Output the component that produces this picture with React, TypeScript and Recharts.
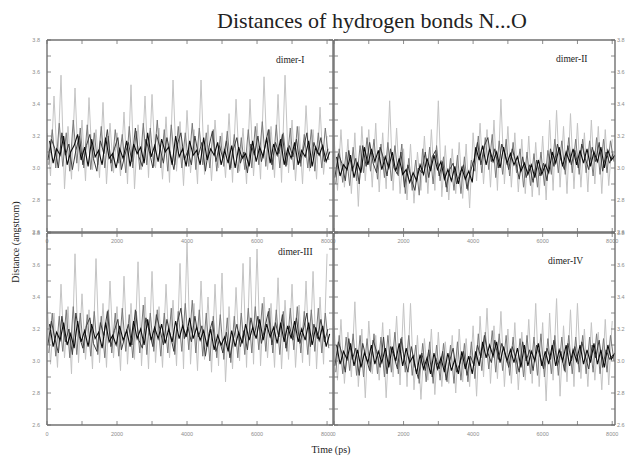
import React from 'react';
import { LineChart, Line, XAxis, YAxis } from 'recharts';

const W = 629;
const H = 457;

// each trace is sampled every 100 ps over 0..8000; the traces are staggered in time
const TIME_STEP = 100;
const X_TICKS = [0, 1000, 2000, 3000, 4000, 5000, 6000, 7000, 8000];
const Y_TICKS = [2.6, 2.7, 2.8, 2.9, 3.0, 3.1, 3.2, 3.3, 3.4, 3.5, 3.6, 3.7, 3.8];

// dimer-I
const d1Light = [
  3.22, 2.95, 3.45, 3.0, 3.58, 2.87, 3.26, 2.93, 3.5, 2.98,
  3.3, 2.92, 3.44, 2.99, 3.24, 2.94, 3.41, 2.9, 3.28, 2.97,
  3.22, 2.95, 3.35, 2.9, 3.52, 2.87, 3.27, 2.99, 3.45, 2.94,
  3.46, 3.0, 3.25, 2.93, 3.32, 2.91, 3.55, 2.98, 3.29, 2.89,
  3.36, 2.97, 3.24, 2.9, 3.55, 2.96, 3.27, 2.92, 3.3, 3.0,
  3.22, 2.94, 3.34, 2.91, 3.43, 2.98, 3.25, 2.9, 3.43, 2.95,
  3.28, 2.93, 3.57, 2.99, 3.26, 2.94, 3.46, 2.91, 3.58, 2.97,
  3.3, 2.92, 3.26, 2.9, 3.39, 2.98, 3.24, 2.93, 3.38, 2.96,
  3.2,
];
const d1Mid = [
  3.02, 3.24, 3.0, 3.28, 3.01, 3.22, 2.98, 3.3, 3.03, 3.25,
  3.0, 3.27, 2.99, 3.22, 3.02, 3.26, 3.0, 3.2, 2.98, 3.24,
  3.03, 3.21, 2.97, 3.26, 3.0, 3.23, 2.99, 3.28, 3.02, 3.25,
  3.01, 3.3, 3.0, 3.24, 2.98, 3.27, 3.02, 3.26, 3.0, 3.22,
  3.01, 3.28, 2.99, 3.25, 3.02, 3.22, 3.0, 3.24, 2.98, 3.2,
  3.01, 3.23, 3.0, 3.21, 2.97, 3.19, 2.99, 3.24, 3.0, 3.26,
  3.02, 3.29, 3.01, 3.24, 2.99, 3.27, 3.0, 3.22, 3.02, 3.25,
  2.99, 3.26, 3.01, 3.21, 3.0, 3.24, 2.98, 3.22, 3.0, 3.25,
  3.05,
];
const d1Dark = [
  3.05, 3.18, 3.12, 3.0, 3.22, 3.08, 3.15, 2.99, 3.11, 3.2,
  3.02, 3.14, 3.21, 3.06, 2.98, 3.17, 3.09, 3.24, 3.03, 3.12,
  3.19, 2.99, 3.08, 3.16, 3.04, 3.25, 3.07, 3.01, 3.18, 3.1,
  3.0, 3.21, 3.13, 3.03, 3.19, 3.09, 2.99, 3.15, 3.22, 3.05,
  3.11, 3.02, 3.2, 3.08, 3.16, 2.98, 3.13, 3.23, 3.04, 3.14,
  3.06, 3.17, 2.99, 3.12, 3.19, 3.03, 3.1, 2.97, 3.15, 3.08,
  3.2, 3.04, 3.13, 3.24, 3.02, 3.16, 3.09, 3.21, 3.01, 3.14,
  3.07, 3.18, 3.03, 3.12, 3.22, 3.0, 3.16, 3.09, 3.19, 3.04,
  3.12,
];
const d1Core = [
  3.17, 3.03, 3.12, 3.08, 3.2, 3.02, 3.1, 3.14, 3.21, 3.05,
  3.13, 3.01, 3.18, 3.07, 3.11, 3.02, 3.19, 3.06, 3.09, 3.0,
  3.12, 3.06, 3.17, 3.01, 3.15, 3.09, 3.13, 3.03, 3.22, 3.07,
  3.14, 3.04, 3.18, 3.1, 3.13, 3.02, 3.2, 3.07, 3.12, 3.01,
  3.17, 3.08, 3.11, 3.02, 3.19, 3.05, 3.12, 3.08, 3.16, 3.02,
  3.11, 3.03, 3.14, 3.0, 3.13, 3.06, 3.09, 3.01, 3.17, 3.04,
  3.13, 3.07, 3.19, 3.03, 3.15, 3.08, 3.18, 3.02, 3.12, 3.06,
  3.16, 3.02, 3.11, 3.07, 3.17, 3.01, 3.13, 3.08, 3.14, 3.04,
  3.1,
];

// dimer-II
const d2Light = [
  3.2, 2.86, 3.24, 2.88, 3.18, 2.84, 3.22, 2.76, 3.26, 2.92,
  3.24, 2.88, 3.28, 2.85, 3.22, 2.87, 3.42, 2.86, 3.25, 2.84,
  3.12, 2.8, 3.15, 2.78, 3.1, 2.86, 3.2, 2.84, 3.24, 2.86,
  3.42, 2.82, 3.14, 2.8, 3.12, 2.84, 3.16, 2.81, 3.15, 2.75,
  3.22, 2.92, 3.28, 2.9, 3.24, 2.88, 3.3, 2.86, 3.43, 2.9,
  3.26, 2.88, 3.22, 2.85, 3.18, 2.84, 3.2, 2.82, 3.16, 2.83,
  3.2, 2.8, 3.3, 2.86, 3.36, 2.88, 3.26, 2.84, 3.34, 2.87,
  3.28, 2.88, 3.22, 2.85, 3.3, 2.9, 3.26, 2.84, 3.24, 2.89,
  3.18,
];
const d2Mid = [
  2.9, 3.12, 2.91, 3.1, 2.89, 3.13, 2.92, 3.14, 2.97, 3.19,
  2.98, 3.18, 2.93, 3.15, 2.94, 3.16, 2.92, 3.14, 2.95, 3.15,
  2.84, 3.06, 2.86, 3.05, 2.83, 3.12, 2.91, 3.13, 2.9, 3.14,
  2.92, 3.07, 2.85, 3.06, 2.86, 3.08, 2.84, 3.07, 2.86, 3.05,
  2.98, 3.2, 2.97, 3.19, 2.99, 3.21, 2.94, 3.17, 2.96, 3.18,
  2.95, 3.16, 2.97, 3.12, 2.88, 3.1, 2.89, 3.09, 2.88, 3.1,
  2.89, 3.11, 2.96, 3.18, 2.97, 3.17, 2.96, 3.19, 2.97, 3.18,
  2.96, 3.18, 2.97, 3.17, 2.95, 3.19, 2.96, 3.18, 2.97, 3.17,
  3.04,
];
const d2Dark = [
  2.94, 3.09, 3.03, 2.92, 3.11, 2.98, 3.06, 2.9, 3.14, 3.01,
  3.16, 3.03, 2.97, 3.13, 3.06, 2.95, 3.12, 3.0, 2.96, 3.1,
  2.88, 3.02, 2.93, 2.86, 3.0, 2.97, 3.1, 2.94, 3.07, 3.11,
  2.95, 3.04, 2.88, 2.99, 3.03, 2.9, 2.97, 3.02, 2.87, 2.98,
  3.05, 3.16, 3.02, 3.14, 3.19, 3.04, 3.12, 3.0, 3.15, 3.08,
  2.99, 3.12, 3.04, 2.93, 3.07, 2.94, 3.02, 2.91, 3.05, 2.95,
  3.03, 2.92, 3.12, 3.01, 3.15, 3.05, 2.99, 3.14, 3.02, 3.11,
  3.0, 3.15, 3.06, 2.99, 3.13, 3.04, 3.16, 2.98, 3.1, 3.03,
  3.09,
];
const d2Core = [
  3.07, 2.95, 3.02, 2.99, 3.08, 2.94, 3.03, 2.97, 3.13, 3.02,
  3.12, 3.04, 3.11, 2.99, 3.07, 3.0, 3.1, 2.98, 3.06, 2.96,
  2.99, 2.91, 2.97, 2.92, 3.02, 2.96, 3.06, 2.98, 3.08, 2.99,
  3.04, 2.93, 2.99, 2.92, 3.01, 2.9, 3.0, 2.93, 2.98, 2.91,
  3.13, 3.05, 3.14, 3.02, 3.12, 3.04, 3.1, 3.0, 3.13, 3.03,
  3.09, 3.02, 3.07, 2.98, 3.03, 2.96, 3.02, 2.94, 3.05, 2.96,
  3.02, 2.97, 3.1, 3.03, 3.13, 3.01, 3.1, 3.04, 3.12, 3.02,
  3.11, 3.03, 3.12, 3.01, 3.1, 3.04, 3.13, 3.0, 3.11, 3.05,
  3.08,
];

// dimer-III
const d3Light = [
  3.38, 2.98, 3.3, 2.96, 3.48, 3.02, 3.34, 2.92, 3.67, 2.99,
  3.42, 3.01, 3.32, 2.95, 3.64, 2.99, 3.36, 2.96, 3.5, 3.02,
  3.34, 2.94, 3.53, 2.98, 3.36, 3.01, 3.62, 2.97, 3.4, 2.95,
  3.56, 2.99, 3.34, 2.96, 3.48, 3.02, 3.38, 2.97, 3.61, 2.95,
  3.75, 2.98, 3.36, 2.94, 3.5, 3.01, 3.4, 2.93, 3.48, 2.97,
  3.55, 2.87, 3.34, 2.95, 3.46, 3.0, 3.61, 2.96, 3.65, 2.98,
  3.7, 2.97, 3.4, 3.02, 3.36, 2.96, 3.52, 2.95, 3.38, 3.01,
  3.48, 2.96, 3.35, 2.99, 3.5, 2.97, 3.56, 2.95, 3.4, 2.98,
  3.67,
];
const d3Mid = [
  3.05, 3.3, 3.03, 3.28, 3.06, 3.32, 3.02, 3.34, 3.04, 3.3,
  3.05, 3.29, 3.03, 3.31, 3.04, 3.28, 3.02, 3.32, 3.05, 3.3,
  3.03, 3.33, 3.06, 3.29, 3.02, 3.31, 3.05, 3.35, 3.04, 3.3,
  3.06, 3.32, 3.03, 3.3, 3.05, 3.33, 3.04, 3.31, 3.06, 3.36,
  3.07, 3.38, 3.05, 3.32, 3.03, 3.3, 3.0, 3.28, 3.02, 3.29,
  3.01, 3.27, 2.99, 3.28, 3.02, 3.3, 3.04, 3.33, 3.05, 3.34,
  3.07, 3.36, 3.06, 3.33, 3.05, 3.32, 3.04, 3.31, 3.06, 3.33,
  3.07, 3.34, 3.05, 3.31, 3.04, 3.32, 3.06, 3.33, 3.05, 3.3,
  3.08,
];
const d3Dark = [
  3.1, 3.25, 3.14, 3.05, 3.28, 3.12, 3.2, 3.04, 3.3, 3.15,
  3.08, 3.22, 3.27, 3.11, 3.06, 3.24, 3.16, 3.31, 3.09, 3.19,
  3.26, 3.07, 3.15, 3.23, 3.1, 3.32, 3.13, 3.08, 3.27, 3.18,
  3.09, 3.29, 3.2, 3.1, 3.26, 3.16, 3.06, 3.24, 3.33, 3.14,
  3.21, 3.12, 3.28, 3.15, 3.22, 3.03, 3.17, 3.25, 3.06, 3.13,
  3.05, 3.18, 3.02, 3.14, 3.23, 3.09, 3.19, 3.07, 3.27, 3.16,
  3.28, 3.11, 3.21, 3.31, 3.1, 3.24, 3.15, 3.29, 3.08, 3.22,
  3.13, 3.27, 3.11, 3.2, 3.3, 3.09, 3.23, 3.14, 3.26, 3.12,
  3.2,
];
const d3Core = [
  3.23, 3.09, 3.18, 3.13, 3.24, 3.1, 3.17, 3.08, 3.25, 3.12,
  3.19, 3.09, 3.23, 3.14, 3.18, 3.08, 3.24, 3.12, 3.16, 3.1,
  3.22, 3.13, 3.19, 3.09, 3.25, 3.14, 3.2, 3.1, 3.26, 3.13,
  3.21, 3.14, 3.23, 3.11, 3.2, 3.12, 3.25, 3.14, 3.22, 3.15,
  3.27, 3.14, 3.21, 3.13, 3.19, 3.09, 3.2, 3.07, 3.16, 3.1,
  3.15, 3.06, 3.19, 3.09, 3.18, 3.11, 3.23, 3.13, 3.21, 3.14,
  3.26, 3.13, 3.23, 3.15, 3.21, 3.11, 3.24, 3.12, 3.22, 3.14,
  3.25, 3.12, 3.2, 3.13, 3.24, 3.1, 3.21, 3.13, 3.22, 3.09,
  3.17,
];

// dimer-IV
const d4Light = [
  3.22, 2.88, 3.26, 2.86, 3.18, 2.9, 3.37, 2.84, 3.2, 2.77,
  3.25, 2.92, 3.16, 2.88, 3.24, 2.77, 3.2, 2.9, 3.28, 2.85,
  3.36, 2.84, 3.36, 2.82, 3.16, 2.76, 3.14, 2.88, 3.2, 2.79,
  3.18, 2.84, 3.12, 2.86, 3.16, 2.8, 3.2, 2.87, 3.14, 2.84,
  3.22, 2.78, 3.28, 2.9, 3.33, 2.86, 3.22, 2.89, 3.31, 2.84,
  3.2, 2.86, 3.24, 2.82, 3.18, 2.88, 3.26, 2.86, 3.36, 2.84,
  3.24, 2.75, 3.3, 2.88, 3.39, 2.78, 3.22, 2.87, 3.32, 2.84,
  3.36, 2.89, 3.2, 2.84, 3.24, 2.88, 3.18, 2.82, 3.26, 2.85,
  3.25,
];
const d4Mid = [
  2.93, 3.16, 2.92, 3.15, 2.94, 3.17, 2.91, 3.16, 2.9, 3.14,
  2.93, 3.17, 2.92, 3.15, 2.9, 3.16, 2.93, 3.18, 2.92, 3.15,
  2.93, 3.16, 2.91, 3.1, 2.86, 3.11, 2.87, 3.12, 2.86, 3.1,
  2.88, 3.11, 2.87, 3.1, 2.86, 3.12, 2.88, 3.11, 2.87, 3.12,
  2.89, 3.17, 2.94, 3.18, 2.95, 3.19, 2.93, 3.17, 2.94, 3.16,
  2.91, 3.15, 2.92, 3.14, 2.9, 3.16, 2.92, 3.15, 2.91, 3.17,
  2.9, 3.14, 2.92, 3.16, 2.91, 3.15, 2.93, 3.16, 2.92, 3.15,
  2.93, 3.16, 2.92, 3.15, 2.93, 3.17, 2.92, 3.14, 2.93, 3.16,
  3.0,
];
const d4Dark = [
  2.97, 3.12, 3.05, 2.93, 3.14, 3.01, 3.08, 2.91, 3.11, 3.02,
  2.94, 3.13, 3.06, 2.96, 3.15, 2.92, 3.09, 3.03, 2.95, 3.14,
  3.01, 2.93, 3.09, 2.97, 2.89, 3.05, 2.94, 3.07, 2.9, 3.02,
  2.95, 3.06, 2.88, 3.0, 3.08, 2.93, 2.99, 3.06, 2.91, 3.03,
  2.97, 3.1, 3.02, 3.16, 3.05, 2.99, 3.13, 3.01, 3.11, 3.04,
  2.96, 3.09, 3.02, 2.93, 3.12, 3.0, 3.07, 2.94, 3.1, 3.03,
  2.95, 3.08, 3.01, 3.13, 2.97, 3.06, 2.94, 3.11, 3.0, 3.09,
  2.98, 3.12, 3.03, 2.95, 3.1, 3.02, 3.13, 2.96, 3.07, 3.01,
  3.04,
];
const d4Core = [
  3.1, 2.98, 3.06, 3.01, 3.11, 2.97, 3.07, 2.96, 3.05, 2.99,
  3.1, 2.98, 3.06, 2.99, 3.08, 2.96, 3.09, 3.0, 3.11, 2.97,
  3.08, 2.99, 3.03, 2.92, 3.04, 2.95, 3.02, 2.92, 3.05, 2.95,
  3.02, 2.93, 3.05, 2.94, 3.01, 2.92, 3.06, 2.95, 3.03, 2.92,
  3.06, 2.97, 3.12, 3.02, 3.1, 3.03, 3.12, 2.99, 3.09, 3.0,
  3.07, 2.99, 3.08, 2.96, 3.1, 2.97, 3.06, 3.0, 3.11, 2.97,
  3.06, 2.98, 3.1, 2.97, 3.07, 3.0, 3.1, 2.97, 3.07, 3.0,
  3.1, 2.98, 3.07, 2.99, 3.11, 2.98, 3.07, 2.96, 3.1, 3.01,
  3.05,
];

const toRows = (values: number[], shift: number) =>
  values.map((v, i) => ({ t: i * TIME_STEP + shift, v }));

const AXIS_COLOR = '#707070';
const tickStyle = { fontSize: 5.5, fill: '#8c8c8c', fontFamily: 'Liberation Sans' };
const fmtX = (v: number) => (v % 2000 === 0 ? String(v) : '');
const fmtY = (v: number) => (Math.round(v * 10) % 2 === 0 ? v.toFixed(1) : '');
const blank = () => '';

type Box = { x: number; y: number; w: number; h: number };

interface PanelProps {
  light: number[];
  mid: number[];
  dark: number[];
  core: number[];
  box: Box;
  xMax: number;
  side: 'left' | 'right';
}

const Panel = ({ light, mid, dark, core, box, xMax, side }: PanelProps) => {
  const axisLine = { stroke: AXIS_COLOR, strokeWidth: 1.4 };
  const tickLine = { stroke: AXIS_COLOR, strokeWidth: 0.8 };
  // axes take 1px each, so the margins are 1px smaller than the plot box offsets
  const margin = {
    left: box.x - 1,
    top: box.y - 1,
    right: W - box.x - box.w - 1,
    bottom: H - box.y - box.h - 1,
  };
  return (
    <div style={{ position: 'absolute', left: 0, top: 0 }}>
      <LineChart width={W} height={H} margin={margin}>
        <XAxis
          xAxisId="b"
          dataKey="t"
          type="number"
          domain={[0, xMax]}
          ticks={X_TICKS}
          tickFormatter={fmtX}
          height={1}
          tickSize={-4}
          tickMargin={11}
          axisLine={axisLine}
          tickLine={tickLine}
          tick={tickStyle}
          interval={0}
          allowDataOverflow
        />
        <XAxis
          xAxisId="t"
          orientation="top"
          dataKey="t"
          type="number"
          domain={[0, xMax]}
          ticks={X_TICKS}
          tickFormatter={blank}
          height={1}
          tickSize={-4}
          axisLine={axisLine}
          tickLine={tickLine}
          tick={tickStyle}
          interval={0}
          allowDataOverflow
        />
        <YAxis
          yAxisId="l"
          type="number"
          domain={[2.6, 3.8]}
          ticks={Y_TICKS}
          tickFormatter={side === 'left' ? fmtY : blank}
          width={1}
          tickSize={-4}
          tickMargin={11}
          axisLine={axisLine}
          tickLine={tickLine}
          tick={tickStyle}
          interval={0}
          allowDataOverflow
        />
        <YAxis
          yAxisId="r"
          orientation="right"
          type="number"
          domain={[2.6, 3.8]}
          ticks={Y_TICKS}
          tickFormatter={side === 'right' ? fmtY : blank}
          width={1}
          tickSize={-4}
          tickMargin={6}
          axisLine={axisLine}
          tickLine={tickLine}
          tick={tickStyle}
          interval={0}
          allowDataOverflow
        />
        <Line data={toRows(light, 0)} xAxisId="b" yAxisId="l" dataKey="v" stroke="#c4c4c4" strokeWidth={1} dot={false} isAnimationActive={false} />
        <Line data={toRows(mid, 50)} xAxisId="b" yAxisId="l" dataKey="v" stroke="#7a7a7a" strokeWidth={1} dot={false} isAnimationActive={false} />
        <Line data={toRows(dark, 25)} xAxisId="b" yAxisId="l" dataKey="v" stroke="#3c3c3c" strokeWidth={1} dot={false} isAnimationActive={false} />
        <Line data={toRows(core, 75)} xAxisId="b" yAxisId="l" dataKey="v" stroke="#0a0a0a" strokeWidth={1.1} dot={false} isAnimationActive={false} />
      </LineChart>
    </div>
  );
};

export default function App() {
  const serif = 'Liberation Serif';
  return (
    <div style={{ position: 'absolute', left: 0, top: 0, width: W, height: H, background: '#fff', overflow: 'hidden' }}>
      <Panel light={d1Light} mid={d1Mid} dark={d1Dark} core={d1Core} box={{ x: 47, y: 40, w: 286, h: 192 }} xMax={8170} side="left" />
      <Panel light={d2Light} mid={d2Mid} dark={d2Dark} core={d2Core} box={{ x: 334, y: 40, w: 281, h: 192 }} xMax={8080} side="right" />
      <Panel light={d3Light} mid={d3Mid} dark={d3Dark} core={d3Core} box={{ x: 47, y: 233, w: 286, h: 192 }} xMax={8170} side="left" />
      <Panel light={d4Light} mid={d4Mid} dark={d4Dark} core={d4Core} box={{ x: 334, y: 233, w: 281, h: 192 }} xMax={8080} side="right" />
      <svg width={W} height={H} style={{ position: 'absolute', left: 0, top: 0, pointerEvents: 'none' }}>
        <text x={372} y={28} textAnchor="middle" fontFamily={serif} fontSize={22} fill="#222">
          Distances of hydrogen bonds N...O
        </text>
        <text x={276} y={63} fontFamily={serif} fontSize={9.5} fill="#222">dimer-I</text>
        <text x={556} y={62} fontFamily={serif} fontSize={9.5} fill="#222">dimer-II</text>
        <text x={278} y={255} fontFamily={serif} fontSize={9.5} fill="#222">dimer-III</text>
        <text x={548} y={264} fontFamily={serif} fontSize={9.5} fill="#222">dimer-IV</text>
        <text
          x={0}
          y={0}
          transform="translate(19,242) rotate(-90)"
          textAnchor="middle"
          fontFamily={serif}
          fontSize={10}
          fill="#222"
        >
          Distance (angstrom)
        </text>
        <text x={331} y={453} textAnchor="middle" fontFamily={serif} fontSize={10} fill="#222">
          Time (ps)
        </text>
      </svg>
    </div>
  );
}
